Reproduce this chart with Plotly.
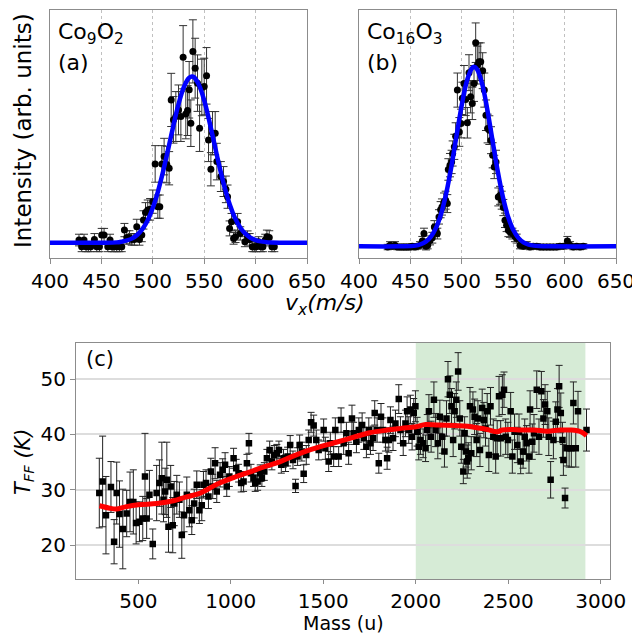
import plotly.graph_objects as go

# ---------------- Panel (a): Co9O2 ----------------
a_v = [428.2, 430.8, 433.1, 435.1, 437.3, 439.6, 443.2, 445.5, 448.1, 450.3, 452.6, 456.2, 458.4, 460.4,
       462.3, 464.9, 467.5, 469.8, 472.4, 474.7, 477.3, 479.5, 482.1, 484.4, 487.0, 489.3, 490.9, 492.9,
       495.1, 497.4, 500.0, 502.3, 504.9, 506.8, 508.8, 511.0, 513.6, 515.9, 517.9, 520.1, 522.4, 525.0,
       527.3, 529.5, 532.1, 533.8, 535.4, 537.0, 539.0, 541.2, 543.5, 545.5, 547.7, 550.0, 552.3, 554.2,
       556.5, 558.1, 560.7, 562.3, 566.2, 568.8, 571.1, 572.7, 574.7, 576.6, 578.6, 580.5, 582.5, 585.1,
       589.6, 592.2, 594.2, 596.8, 598.7, 600.6, 602.9, 605.2, 607.1, 609.4, 611.0, 613.3, 615.9, 618.2]
a_i = [0.016, -0.024, 0.016, -0.024, -0.024, -0.024, 0.020, -0.024, -0.024, 0.046, 0.046, -0.024, 0.016, -0.024,
       -0.024, -0.024, -0.024, -0.024, 0.076, 0.032, 0.032, 0.020, 0.020, 0.096, 0.020, 0.046, 0.137, 0.181,
       0.197, 0.201, 0.247, 0.474, 0.217, 0.217, 0.474, 0.518, 0.470, 0.448, 0.859, 0.739, 0.759, 0.799,
       0.759, 1.116, 0.775, 0.795, 0.920, 0.719, 1.151, 1.050, 0.960, 0.689, 0.934, 0.940, 1.004, 0.618,
       0.442, 0.659, 0.659, 0.488, 0.398, 0.368, 0.321, 0.277, 0.086, 0.126, 0.026, 0.036, 0.126, 0.056,
       0.006, 0.036, 0.020, -0.024, -0.024, -0.024, 0.006, -0.024, -0.024, 0.016, 0.036, 0.032, -0.024, -0.024]
a_err = [0.035, 0.03, 0.035, 0.03, 0.03, 0.03, 0.035, 0.03, 0.03, 0.04, 0.04, 0.03, 0.035, 0.03,
         0.03, 0.03, 0.03, 0.03, 0.04, 0.04, 0.04, 0.035, 0.035, 0.045, 0.035, 0.04, 0.055, 0.06,
         0.06, 0.065, 0.07, 0.11, 0.07, 0.07, 0.11, 0.11, 0.11, 0.10, 0.16, 0.14, 0.15, 0.15,
         0.15, 0.19, 0.15, 0.15, 0.17, 0.14, 0.19, 0.18, 0.17, 0.14, 0.17, 0.17, 0.17, 0.13,
         0.10, 0.13, 0.13, 0.11, 0.09, 0.09, 0.08, 0.07, 0.045, 0.05, 0.035, 0.035, 0.05, 0.04,
         0.03, 0.035, 0.035, 0.03, 0.03, 0.03, 0.03, 0.03, 0.03, 0.035, 0.04, 0.04, 0.03, 0.03]
fit_a_v = [400, 450, 465, 470, 475, 480, 485, 490, 495, 500, 505, 510, 515, 520, 525, 530, 535, 538, 540,
           545, 550, 555, 560, 565, 570, 575, 580, 585, 590, 595, 600, 605, 610, 615, 625, 650]
fit_a_i = [0.0, 0.0, 0.002, 0.0067, 0.0137, 0.026, 0.048, 0.083, 0.135, 0.210, 0.308, 0.428, 0.564, 0.704,
           0.833, 0.933, 0.990, 1.0, 0.996, 0.948, 0.856, 0.731, 0.592, 0.454, 0.330, 0.227, 0.148, 0.092,
           0.054, 0.030, 0.016, 0.0078, 0.0035, 0.001, 0.0, 0.0]

# ---------------- Panel (b): Co16O3 ----------------
b_v = [427.9, 430.2, 432.4, 435.0, 437.3, 439.9, 442.5, 444.7, 447.0, 449.6, 451.9, 454.5, 456.7, 459.3,
       461.6, 463.2, 465.2, 466.8, 469.1, 471.3, 473.3, 474.9, 476.2, 477.8, 479.4, 480.7, 482.7, 484.3,
       485.9, 486.9, 488.5, 490.1, 491.1, 492.7, 494.0, 495.7, 497.6, 499.2, 500.5, 502.1, 503.8, 505.4,
       507.0, 508.6, 510.2, 511.9, 513.5, 515.1, 516.7, 518.4, 520.3, 521.9, 523.5, 525.1, 526.8, 528.4,
       530.0, 531.6, 533.3, 535.5, 537.2, 538.8, 540.4, 542.0, 543.6, 545.3, 546.9, 549.2, 551.7, 553.4,
       556.6, 559.9, 563.1, 566.3, 569.6, 572.8, 576.1, 579.3, 582.6, 585.8, 589.0, 592.3, 595.5, 598.8,
       602.7, 605.3, 608.5, 611.7, 615.0, 618.2]
b_i = [-0.004, 0.006, 0.000, 0.006, -0.004, -0.004, -0.004, -0.004, -0.004, -0.004, 0.000, -0.004, 0.000, 0.006,
       0.030, 0.071, 0.000, 0.006, 0.033, 0.048, 0.108, 0.089, 0.071, 0.164, 0.204, 0.219, 0.247, 0.257,
       0.238, 0.428, 0.452, 0.470, 0.517, 0.554, 0.613, 0.870, 0.637, 0.684, 0.824, 0.907, 0.818, 0.688,
       0.967, 0.833, 0.796, 0.907, 1.134, 1.009, 1.028, 1.028, 0.978, 0.870, 0.730, 0.656, 0.647, 0.591,
       0.507, 0.442, 0.470, 0.275, 0.284, 0.257, 0.216, 0.145, 0.117, 0.089, 0.080, 0.071, 0.056, 0.043,
       0.006, 0.000, 0.006, -0.004, 0.000, 0.000, -0.004, -0.004, -0.004, -0.004, -0.004, -0.004, 0.000, 0.000,
       0.030, 0.006, -0.004, 0.000, -0.004, 0.000]
b_err = [0.015, 0.02, 0.015, 0.02, 0.015, 0.015, 0.015, 0.015, 0.015, 0.015, 0.015, 0.015, 0.015, 0.02,
         0.025, 0.03, 0.02, 0.02, 0.025, 0.03, 0.035, 0.035, 0.03, 0.04, 0.045, 0.045, 0.05, 0.05,
         0.05, 0.06, 0.065, 0.065, 0.07, 0.07, 0.075, 0.095, 0.08, 0.08, 0.09, 0.10, 0.09, 0.085,
         0.10, 0.09, 0.09, 0.10, 0.11, 0.105, 0.105, 0.105, 0.10, 0.095, 0.085, 0.08, 0.08, 0.075,
         0.07, 0.065, 0.065, 0.05, 0.05, 0.05, 0.045, 0.04, 0.035, 0.035, 0.03, 0.03, 0.03, 0.025,
         0.02, 0.015, 0.02, 0.015, 0.015, 0.015, 0.015, 0.015, 0.015, 0.015, 0.015, 0.015, 0.015, 0.015,
         0.025, 0.02, 0.015, 0.015, 0.015, 0.015]
fit_b_v = [400, 440, 455, 460, 465, 470, 475, 480, 485, 490, 495, 500, 505, 510, 512, 515, 520, 525, 530,
           535, 540, 545, 550, 555, 560, 565, 570, 575, 585, 650]
fit_b_i = [0.0, 0.0, 0.004, 0.0115, 0.026, 0.054, 0.104, 0.184, 0.300, 0.449, 0.620, 0.788, 0.922, 0.993, 1.0,
           0.985, 0.900, 0.756, 0.585, 0.417, 0.274, 0.165, 0.092, 0.047, 0.022, 0.0096, 0.004, 0.0015, 0.0, 0.0]

# ---------------- Panel (c): T_FF vs mass ----------------
c_mass = [289, 307, 325, 352, 369, 383, 398, 416, 437, 455, 473, 488, 506, 524, 536, 545, 560, 578, 599, 614,
          627, 636, 645, 654, 663, 675, 686, 694, 708, 722, 735, 747, 762, 776, 789, 802, 816, 830, 843, 852,
          866, 879, 892, 902, 915, 924, 942, 956, 969, 978, 992, 1015, 1029, 1042, 1056, 1069, 1087, 1098, 1109, 1123,
          1132, 1145, 1159, 1168, 1181, 1195, 1210, 1222, 1235, 1249, 1260, 1273, 1285, 1296, 1307, 1321, 1336, 1350, 1361, 1372,
          1384, 1394, 1408, 1421, 1434, 1448, 1462, 1475, 1502, 1511, 1529, 1538, 1556, 1565, 1583, 1596, 1610, 1625, 1637, 1655,
          1664, 1679, 1692, 1710, 1719, 1733, 1746, 1755, 1769, 1778, 1791, 1800, 1812, 1823, 1836, 1845, 1854, 1863, 1877, 1890,
          1908, 1917, 1932, 1944, 1953, 1962, 1971, 1980, 1989, 1998, 2007, 2016, 2025, 2040, 2053, 2062, 2071, 2083, 2098, 2107,
          2119, 2130, 2143, 2155, 2166, 2174, 2184, 2193, 2202, 2210, 2219, 2229, 2238, 2246, 2257, 2264, 2271, 2278, 2284, 2293,
          2300, 2309, 2318, 2329, 2336, 2347, 2359, 2368, 2377, 2386, 2395, 2404, 2419, 2432, 2440, 2450, 2459, 2468, 2477, 2486,
          2498, 2513, 2522, 2534, 2549, 2558, 2567, 2580, 2589, 2599, 2612, 2618, 2630, 2639, 2654, 2666, 2679, 2690, 2699, 2711,
          2719, 2729, 2744, 2757, 2766, 2775, 2784, 2793, 2798, 2807, 2816, 2829, 2841, 2852, 2865, 2877, 2923]
c_T = [29.4, 31.5, 25.4, 30.5, 20.6, 29.4, 25.6, 22.9, 25.7, 27.8, 27.8, 24.0, 24.2, 24.8, 32.4, 24.8, 29.1, 20.2, 29.4, 31.2,
       32.1, 28.2, 29.7, 31.8, 23.3, 30.6, 23.6, 27.5, 29.1, 28.2, 21.8, 25.4, 29.1, 26.3, 24.5, 27.5, 30.9, 26.3, 27.2, 30.9,
       31.2, 28.8, 33.3, 30.6, 34.8, 29.7, 32.7, 33.6, 34.5, 30.6, 32.4, 35.7, 33.9, 33.0, 31.2, 31.5, 34.8, 38.4, 33.0, 32.1,
       31.2, 31.5, 33.0, 32.1, 33.3, 35.7, 37.2, 35.1, 36.3, 36.6, 37.2, 34.5, 35.7, 34.8, 36.0, 38.1, 35.4, 30.7, 36.0, 38.1,
       36.9, 32.9, 36.3, 39.0, 42.2, 41.6, 39.0, 37.2, 40.8, 37.5, 35.1, 38.4, 36.0, 40.8, 36.0, 42.6, 38.4, 40.2, 36.6, 42.9,
       40.2, 38.7, 40.8, 41.7, 39.3, 37.8, 40.8, 38.4, 39.3, 43.9, 40.8, 34.8, 43.2, 40.8, 39.0, 35.7, 39.0, 42.6, 39.3, 42.0,
       46.4, 40.8, 38.4, 42.0, 44.2, 40.8, 44.5, 39.6, 43.9, 45.1, 40.5, 37.8, 39.0, 38.4, 37.5, 40.8, 44.2, 39.6, 46.3, 40.8,
       38.4, 43.2, 39.6, 36.9, 42.9, 50.0, 47.2, 45.1, 39.0, 44.2, 46.3, 51.4, 42.9, 37.8, 33.3, 40.2, 36.9, 35.1, 35.7, 45.1,
       36.6, 44.5, 43.2, 39.0, 42.9, 37.2, 44.8, 42.6, 41.1, 44.2, 36.3, 45.1, 39.6, 36.0, 39.3, 46.9, 39.3, 47.2, 48.1, 39.6,
       39.0, 44.2, 36.0, 40.5, 38.1, 40.5, 35.1, 36.9, 39.6, 38.4, 36.0, 44.5, 38.7, 40.2, 48.1, 39.6, 47.8, 42.9, 45.4, 44.2,
       39.6, 31.8, 39.0, 42.3, 44.5, 48.7, 43.9, 39.0, 35.4, 28.5, 37.5, 37.5, 37.5, 45.7, 37.5, 44.2, 40.8]
c_err = [6.3, 8.2, 7.0, 4.6, 4.0, 5.6, 6.0, 7.2, 4.2, 5.4, 5.8, 3.8, 3.6, 4.0, 7.8, 3.6, 4.4, 2.7, 5.0, 4.2,
         6.5, 4.0, 4.2, 6.8, 4.6, 3.8, 5.0, 4.0, 3.5, 3.2, 4.2, 3.0, 3.2, 3.0, 2.6, 2.6, 2.5, 2.4, 2.8, 2.4,
         2.4, 2.2, 2.4, 2.2, 2.8, 2.0, 2.2, 2.0, 2.2, 1.8, 1.8, 1.8, 1.6, 1.6, 1.6, 1.8, 1.6, 1.8, 1.6, 1.5,
         1.5, 1.6, 1.5, 1.5, 1.6, 1.6, 1.6, 1.5, 1.7, 1.6, 1.6, 1.5, 1.6, 1.5, 1.7, 1.7, 1.6, 1.2, 1.6, 1.8,
         1.7, 1.6, 1.7, 1.8, 1.8, 1.9, 1.8, 1.8, 2.0, 2.0, 1.8, 2.0, 1.8, 2.2, 1.8, 2.2, 2.0, 2.0, 2.0, 2.4,
         2.0, 2.0, 2.2, 2.2, 2.0, 2.0, 2.2, 2.0, 2.2, 2.2, 2.2, 1.8, 2.4, 2.2, 2.0, 2.0, 2.2, 2.4, 2.2, 2.4,
         2.6, 2.4, 2.2, 2.4, 2.6, 2.4, 2.6, 2.4, 2.6, 2.8, 2.6, 2.4, 2.6, 2.6, 2.4, 2.8, 3.0, 2.8, 3.2, 3.0,
         2.8, 3.0, 3.0, 2.8, 3.2, 3.2, 3.4, 3.2, 3.0, 3.2, 3.2, 3.4, 3.2, 3.0, 2.2, 3.0, 2.8, 3.0, 2.8, 3.4,
         3.0, 3.2, 3.2, 3.0, 3.2, 3.0, 3.4, 3.2, 3.2, 3.2, 3.0, 3.4, 3.2, 3.0, 3.2, 3.6, 3.2, 3.6, 3.2, 3.2,
         3.2, 3.4, 3.0, 3.2, 3.2, 3.2, 2.2, 3.0, 3.2, 3.2, 3.0, 3.4, 3.2, 3.4, 3.4, 3.2, 3.6, 3.4, 3.6, 3.6,
         3.4, 3.3, 3.4, 3.6, 3.8, 3.8, 3.6, 3.2, 2.8, 1.8, 3.2, 3.4, 3.4, 3.8, 3.4, 3.6, 3.8]
trend_mass = [290, 340, 380, 430, 500, 600, 690, 760, 835, 925, 1015, 1100, 1195, 1260, 1330, 1400, 1484, 1560,
              1664, 1750, 1845, 1920, 2002, 2053, 2120, 2206, 2280, 2314, 2386, 2440, 2468, 2520, 2567, 2640,
              2711, 2780, 2838, 2892, 2923]
trend_T = [27.1, 26.7, 26.5, 26.9, 27.3, 27.5, 28.0, 28.7, 29.4, 31.0, 32.2, 33.2, 34.3, 35.0, 36.0, 36.9, 37.8, 38.5,
           39.5, 40.3, 40.8, 41.1, 41.4, 41.8, 41.7, 41.6, 41.5, 41.3, 40.9, 40.5, 40.8, 40.9, 40.8, 40.8,
           40.6, 40.8, 40.8, 40.5, 39.8]

# highlighted mass window
shade_mass = [2000, 2917]

FONT = "DejaVu Sans"
AX = "#8c8c8c"
W, H = 640, 635
OFF = 8  # page body margin offset compensation


def dx(p0, p1):
    return [(p0 - OFF) / W, (p1 - OFF) / W]


def dy(top, bottom):
    return [1 - (bottom - OFF) / H, 1 - (top - OFF) / H]


fig = go.Figure()

fig.add_trace(go.Scatter(x=a_v, y=a_i, mode="markers", xaxis="x", yaxis="y",
                         marker=dict(color="black", size=7, symbol="circle"),
                         error_y=dict(type="data", array=a_err, color="#333333", thickness=1, width=4)))
fig.add_trace(go.Scatter(x=fit_a_v, y=fit_a_i, mode="lines", xaxis="x", yaxis="y",
                         line=dict(color="#0000ff", width=4.5, shape="spline")))

fig.add_trace(go.Scatter(x=b_v, y=b_i, mode="markers", xaxis="x2", yaxis="y2",
                         marker=dict(color="black", size=7, symbol="circle"),
                         error_y=dict(type="data", array=b_err, color="#333333", thickness=1, width=4)))
fig.add_trace(go.Scatter(x=fit_b_v, y=fit_b_i, mode="lines", xaxis="x2", yaxis="y2",
                         line=dict(color="#0000ff", width=4.5, shape="spline")))

fig.add_trace(go.Scatter(x=c_mass, y=c_T, mode="markers", xaxis="x3", yaxis="y3",
                         marker=dict(color="black", size=6.5, symbol="square"),
                         error_y=dict(type="data", array=c_err, color="#222222", thickness=1, width=3.5)))
fig.add_trace(go.Scatter(x=trend_mass, y=trend_T, mode="lines", xaxis="x3", yaxis="y3",
                         line=dict(color="#ff0000", width=5, shape="spline")))

fig.add_shape(type="rect", xref="x3", yref="y3 domain", x0=shade_mass[0], x1=shade_mass[1], y0=0, y1=1,
              fillcolor="rgba(0,128,0,0.16)", line=dict(width=0), layer="below")

tickfont = dict(family=FONT, size=20, color="black")
vx_common = dict(range=[400, 650], tickvals=[400, 450, 500, 550, 600, 650], ticks="outside", ticklen=5,
                 tickcolor=AX, showline=True, linecolor=AX, linewidth=1, mirror=True,
                 showgrid=True, gridcolor="#c0c0c0", griddash="dot", gridwidth=1,
                 zeroline=False, tickfont=tickfont, automargin=False)
vy_common = dict(showticklabels=False, ticks="", showgrid=False, zeroline=False,
                 showline=True, linecolor=AX, linewidth=1, mirror=True, automargin=False)

fig.update_layout(
    width=W, height=H, margin=dict(l=0, r=0, t=0, b=0, autoexpand=False),
    paper_bgcolor="white", plot_bgcolor="white", showlegend=False,
    font=dict(family=FONT, color="black"),
    xaxis=dict(domain=dx(50, 307), anchor="y", **vx_common),
    yaxis=dict(domain=dy(10, 258), anchor="x", range=[-0.092, 1.40], **vy_common),
    xaxis2=dict(domain=dx(359, 616), anchor="y2", **vx_common),
    yaxis2=dict(domain=dy(10, 258), anchor="x2", range=[-0.065, 1.316], **vy_common),
    xaxis3=dict(domain=dx(76, 610), anchor="y3", range=[163, 3050],
                tickvals=[500, 1000, 1500, 2000, 2500, 3000], ticks="outside", ticklen=4, tickcolor=AX,
                showline=True, linecolor=AX, linewidth=1, mirror=True, showgrid=False, zeroline=False,
                tickfont=tickfont, automargin=False),
    yaxis3=dict(domain=dy(342.7, 579.3), anchor="x3", range=[13.8, 56.6],
                tickvals=[20, 30, 40, 50], ticks="outside", ticklen=5, tickcolor=AX,
                showline=True, linecolor=AX, linewidth=1, mirror=True,
                showgrid=True, gridcolor="#dddddd", gridwidth=1.5, zeroline=False, tickfont=tickfont,
                automargin=False),
)


def ann(text, x, y, size=21, xanchor="left", yanchor="middle", angle=0):
    fig.add_annotation(text=text, x=(x - OFF) / W, y=1 - (y - OFF) / H, xref="paper", yref="paper",
                       showarrow=False, xanchor=xanchor, yanchor=yanchor, textangle=angle,
                       font=dict(family=FONT, size=size, color="black"), borderpad=0)


ann("Co<sub>9</sub>O<sub>2</sub>", 57, 33, size=22)
ann("(a)", 57, 63, size=22)
ann("Co<sub>16</sub>O<sub>3</sub>", 366, 33, size=22)
ann("(b)", 366, 63, size=22)
ann("(c)", 85, 359, size=21)
ann("Intensity (arb. units)", 23, 131, size=23, xanchor="center", angle=-90)
ann("<i>v<sub>x</sub>(m/s)</i>", 325, 304, size=22, xanchor="center")
ann("<i>T<sub>FF</sub> (K)</i>", 24, 462, size=21, xanchor="center", angle=-90)
ann("Mass (u)", 343, 623, size=19, xanchor="center")

fig.write_html("out.html")
